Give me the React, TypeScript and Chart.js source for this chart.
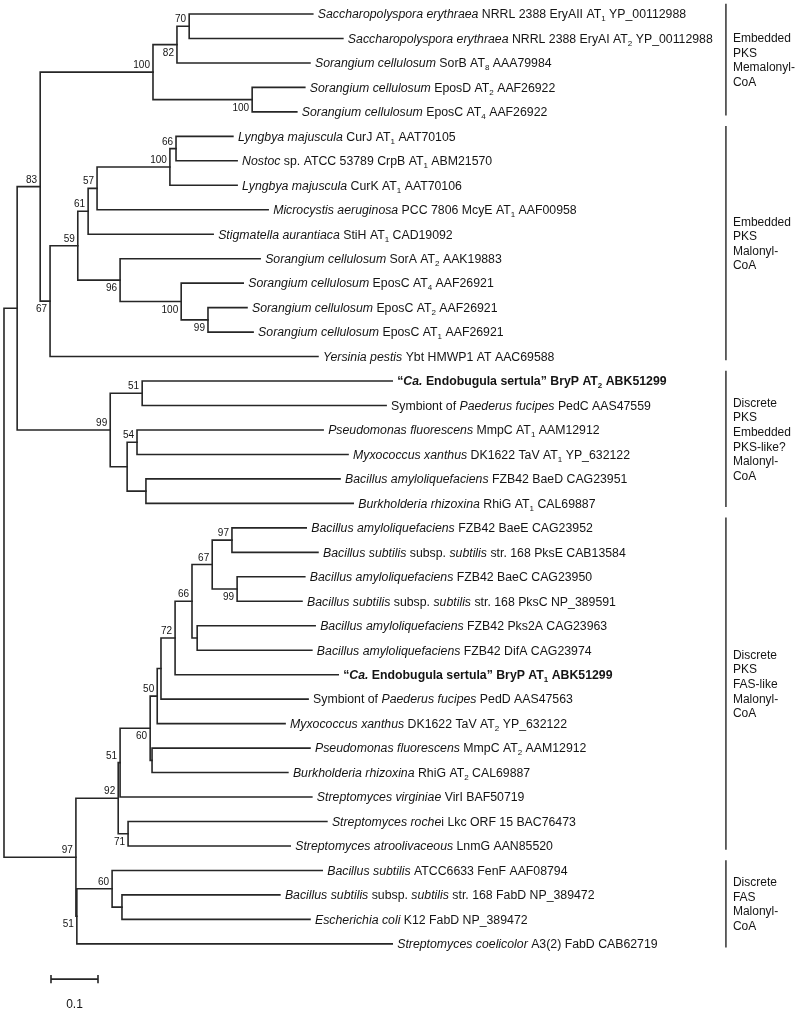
import React, { useEffect, useRef } from "react";
import { Chart, registerables } from "chart.js";
Chart.register(...registerables);

// ---------- DATA ----------
// Leaf labels: *..* italic, #..# bold, ~x subscript char
const leafLabels: string[] = [
  "*Saccharopolyspora erythraea* NRRL 2388 EryAII AT~1 YP_00112988",
  "*Saccharopolyspora erythraea* NRRL 2388 EryAI AT~2 YP_00112988",
  "*Sorangium cellulosum* SorB AT~8 AAA79984",
  "*Sorangium cellulosum* EposD AT~2 AAF26922",
  "*Sorangium cellulosum* EposC AT~4 AAF26922",
  "*Lyngbya majuscula* CurJ AT~1 AAT70105",
  "*Nostoc* sp. ATCC 53789 CrpB AT~1 ABM21570",
  "*Lyngbya majuscula* CurK AT~1 AAT70106",
  "*Microcystis aeruginosa* PCC 7806 McyE AT~1 AAF00958",
  "*Stigmatella aurantiaca* StiH AT~1 CAD19092",
  "*Sorangium cellulosum* SorA AT~2 AAK19883",
  "*Sorangium cellulosum* EposC AT~4 AAF26921",
  "*Sorangium cellulosum* EposC AT~2 AAF26921",
  "*Sorangium cellulosum* EposC AT~1 AAF26921",
  "*Yersinia pestis* Ybt HMWP1 AT AAC69588",
  "#“*Ca.* Endobugula sertula” BryP AT~2 ABK51299#",
  "Symbiont of *Paederus fucipes* PedC AAS47559",
  "*Pseudomonas fluorescens* MmpC AT~1 AAM12912",
  "*Myxococcus xanthus* DK1622 TaV AT~1 YP_632122",
  "*Bacillus amyloliquefaciens* FZB42 BaeD CAG23951",
  "*Burkholderia rhizoxina* RhiG AT~1 CAL69887",
  "*Bacillus amyloliquefaciens* FZB42 BaeE CAG23952",
  "*Bacillus subtilis* subsp. *subtilis* str. 168 PksE CAB13584",
  "*Bacillus amyloliquefaciens* FZB42 BaeC CAG23950",
  "*Bacillus subtilis* subsp. *subtilis* str. 168 PksC NP_389591",
  "*Bacillus amyloliquefaciens* FZB42 Pks2A CAG23963",
  "*Bacillus amyloliquefaciens* FZB42 DifA CAG23974",
  "#“*Ca.* Endobugula sertula” BryP AT~1 ABK51299#",
  "Symbiont of *Paederus fucipes* PedD AAS47563",
  "*Myxococcus xanthus* DK1622 TaV AT~2 YP_632122",
  "*Pseudomonas fluorescens* MmpC AT~2 AAM12912",
  "*Burkholderia rhizoxina* RhiG AT~2 CAL69887",
  "*Streptomyces virginiae* VirI BAF50719",
  "*Streptomyces roche*i Lkc ORF 15 BAC76473",
  "*Streptomyces atroolivaceous* LnmG AAN85520",
  "*Bacillus subtilis* ATCC6633 FenF AAF08794",
  "*Bacillus subtilis* subsp. *subtilis* str. 168 FabD NP_389472",
  "*Escherichia coli* K12 FabD NP_389472",
  "*Streptomyces coelicolor* A3(2) FabD CAB62719",
];

// distance from root (substitutions/site) at each leaf tip
const leafDepths: number[] = [
  0.657, 0.721, 0.651, 0.640, 0.623, 0.487, 0.496, 0.496, 0.562, 0.445,
  0.545, 0.509, 0.517, 0.530, 0.668, 0.826, 0.813, 0.679, 0.732, 0.715,
  0.743, 0.643, 0.668, 0.640, 0.634, 0.662, 0.655, 0.711, 0.647, 0.598,
  0.651, 0.604, 0.655, 0.687, 0.609, 0.677, 0.587, 0.651, 0.826,
];

const leafParents: string[] = [
  "N70", "N70", "N82", "N100b", "N100b", "N66a", "N66a", "N100c", "N57", "N61",
  "N96", "N100d", "N99a", "N99a", "N67", "N51a", "N51a", "N54", "N54", "C",
  "C", "N97b", "N97b", "N99c", "N99c", "E", "E", "N72", "D", "N50",
  "F", "F", "N51b", "N71", "N71", "N60b", "G", "G", "N51c",
];

const nodeIds: string[] = [
  "R", "A", "N83", "N100a", "N82", "N70", "N100b", "N67", "N59", "N61",
  "N57", "N100c", "N66a", "N96", "N100d", "N99a", "N99b", "N51a", "B", "N54",
  "C", "N97a", "N92", "N51b", "N60a", "N50", "D", "N72", "N66b", "N67b",
  "N97b", "N99c", "E", "F", "N71", "N51c", "N60b", "G",
];
const nodeParents: (string | null)[] = [
  null, "R", "A", "N83", "N100a", "N82", "N100a", "N83", "N67", "N59",
  "N61", "N57", "N100c", "N59", "N96", "N100d", "A", "N99b", "N99b", "B",
  "B", "R", "N97a", "N92", "N51b", "N60a", "N50", "D", "N72", "N66b",
  "N67b", "N67b", "N66b", "N60a", "N92", "N97a", "N51c", "N60b",
];
const nodeDepths: number[] = [
  0.0, 0.028, 0.077, 0.317, 0.368, 0.394, 0.528, 0.098, 0.157, 0.179,
  0.198, 0.353, 0.366, 0.247, 0.377, 0.434, 0.226, 0.294, 0.262, 0.283,
  0.302, 0.153, 0.243, 0.247, 0.311, 0.326, 0.334, 0.364, 0.400, 0.443,
  0.485, 0.496, 0.411, 0.315, 0.264, 0.155, 0.230, 0.251,
];
const nodeSupport: string[] = [
  "", "", "83", "100", "82", "70", "100", "67", "59", "61",
  "57", "100", "66", "96", "100", "99", "99", "51", "", "54",
  "", "97", "92", "51", "60", "50", "", "72", "66", "67",
  "97", "99", "", "", "71", "51", "60", "",
];
const supportBelow: boolean[] = [
  false, false, false, false, true, false, true, true, false, false,
  false, false, false, true, true, true, false, false, false, false,
  false, false, false, false, true, false, false, false, false, false,
  false, true, false, false, true, true, false, false,
];

const cladeFirst: number[] = [0, 5, 15, 21, 35];
const cladeLast: number[] = [4, 14, 20, 34, 38];
const cladeNames: string[][] = [
  ["Embedded", "PKS", "Memalonyl-", "CoA"],
  ["Embedded", "PKS", "Malonyl-", "CoA"],
  ["Discrete", "PKS", "Embedded", "PKS-like?", "Malonyl-", "CoA"],
  ["Discrete", "PKS", "FAS-like", "Malonyl-", "CoA"],
  ["Discrete", "FAS", "Malonyl-", "CoA"],
];

const scaleBarStart = 0.1;
const scaleBarLength = 0.1;
const scaleBarLabel = "0.1";

// ---------- LAYOUT CONSTANTS ----------
const W = 800;
const H = 1013;
const X_MIN = -0.0085;
const X_MAX = 1.6936;
const Y_MIN = -0.572;
const Y_MAX = 40.826;
const CLADE_X = 1.536;
const SCALE_ROW = 39.44;
const FONT = '"Liberation Sans", Arial, Helvetica, sans-serif';
const LINE_COLOR = "#262626";
const TEXT_COLOR = "#141414";

type Seg = { t: string; i: boolean; b: boolean; sub: boolean };
function parseRich(s: string): Seg[] {
  const segs: Seg[] = [];
  let it = false;
  let bd = false;
  let cur = "";
  const flush = () => {
    if (cur) {
      segs.push({ t: cur, i: it, b: bd, sub: false });
      cur = "";
    }
  };
  for (let k = 0; k < s.length; k++) {
    const ch = s[k];
    if (ch === "*") {
      flush();
      it = !it;
    } else if (ch === "#") {
      flush();
      bd = !bd;
    } else if (ch === "~") {
      flush();
      segs.push({ t: s[k + 1], i: it, b: bd, sub: true });
      k++;
    } else cur += ch;
  }
  flush();
  return segs;
}

type TNode = { id: string; depth: number; y: number; children: TNode[]; support: string; below: boolean };

function buildTree() {
  const map: Record<string, TNode> = {};
  nodeIds.forEach((id, k) => {
    map[id] = { id, depth: nodeDepths[k], y: NaN, children: [], support: nodeSupport[k], below: supportBelow[k] };
  });
  const leaves: TNode[] = leafLabels.map((_, k) => ({
    id: "L" + k,
    depth: leafDepths[k],
    y: k,
    children: [],
    support: "",
    below: false,
  }));
  leaves.forEach((l, k) => map[leafParents[k]].children.push(l));
  nodeIds.forEach((id, k) => {
    const p = nodeParents[k];
    if (p) map[p].children.push(map[id]);
  });
  const computeY = (n: TNode): number => {
    if (n.children.length === 0) return n.y;
    const ys = n.children.map(computeY);
    n.children.sort((a, b) => a.y - b.y);
    n.y = (Math.min(...ys) + Math.max(...ys)) / 2;
    return n.y;
  };
  computeY(map["R"]);
  return { map, leaves };
}

export default function App() {
  const ref = useRef<HTMLCanvasElement>(null);

  useEffect(() => {
    document.body.style.margin = "0";
    const { map } = buildTree();
    const lineBase = {
      showLine: true,
      borderColor: LINE_COLOR,
      borderWidth: 1.6,
      pointRadius: 0,
      pointHoverRadius: 0,
      fill: false,
      tension: 0,
      borderJoinStyle: "miter" as const,
      borderCapStyle: "square" as const,
    };
    const datasets: any[] = [];
    nodeIds.forEach((id) => {
      const n = map[id];
      const c = n.children;
      const f = c[0];
      const l = c[c.length - 1];
      datasets.push({
        ...lineBase,
        data: [
          { x: f.depth, y: f.y },
          { x: n.depth, y: f.y },
          { x: n.depth, y: l.y },
          { x: l.depth, y: l.y },
        ],
      });
      for (let k = 1; k < c.length - 1; k++) {
        datasets.push({
          ...lineBase,
          data: [
            { x: n.depth, y: c[k].y },
            { x: c[k].depth, y: c[k].y },
          ],
        });
      }
    });
    // clade bars
    cladeFirst.forEach((fi, k) => {
      datasets.push({
        ...lineBase,
        borderColor: "#333",
        borderWidth: 1.5,
        borderCapStyle: "butt",
        data: [
          { x: CLADE_X, y: fi - 0.42 },
          { x: CLADE_X, y: cladeLast[k] + 0.15 },
        ],
      });
    });
    // scale bar
    const sb0 = scaleBarStart;
    const sb1 = scaleBarStart + scaleBarLength;
    datasets.push({ ...lineBase, borderCapStyle: "butt", data: [{ x: sb0, y: SCALE_ROW }, { x: sb1, y: SCALE_ROW }] });
    datasets.push({ ...lineBase, borderCapStyle: "butt", data: [{ x: sb0, y: SCALE_ROW - 0.17 }, { x: sb0, y: SCALE_ROW + 0.17 }] });
    datasets.push({ ...lineBase, borderCapStyle: "butt", data: [{ x: sb1, y: SCALE_ROW - 0.17 }, { x: sb1, y: SCALE_ROW + 0.17 }] });

    const parsedLabels = leafLabels.map(parseRich);

    const textPlugin = {
      id: "treeText",
      beforeDraw(chart: any) {
        const ctx = chart.ctx;
        ctx.save();
        ctx.fillStyle = "#ffffff";
        ctx.fillRect(0, 0, chart.width, chart.height);
        ctx.restore();
      },
      afterDatasetsDraw(chart: any) {
        const ctx: CanvasRenderingContext2D = chart.ctx;
        const xs = chart.scales.x;
        const ys = chart.scales.y;
        ctx.save();
        ctx.fillStyle = TEXT_COLOR;
        ctx.textBaseline = "alphabetic";
        // leaf labels
        const size = 12.3;
        parsedLabels.forEach((segs, k) => {
          let x = xs.getPixelForValue(leafDepths[k]) + 5;
          const base = ys.getPixelForValue(k) + 4.3;
          segs.forEach((s) => {
            const fs = s.sub ? 8 : size;
            ctx.font = `${s.i ? "italic " : ""}${s.b ? "bold " : ""}${fs}px ${FONT}`;
            ctx.textAlign = "left";
            ctx.fillText(s.t, x, s.sub ? base + 3 : base);
            x += ctx.measureText(s.t).width;
          });
        });
        // bootstrap values
        ctx.font = `10px ${FONT}`;
        ctx.textAlign = "right";
        nodeIds.forEach((id) => {
          const n = map[id];
          if (!n.support) return;
          const px = xs.getPixelForValue(n.depth) - 3;
          const py = ys.getPixelForValue(n.y);
          ctx.fillText(n.support, px, n.below ? py + 11 : py - 4);
        });
        // clade names
        ctx.font = `12px ${FONT}`;
        ctx.textAlign = "left";
        const lh = 14.6;
        cladeFirst.forEach((fi, k) => {
          const top = ys.getPixelForValue(fi - 0.42);
          const bot = ys.getPixelForValue(cladeLast[k] + 0.15);
          const mid = (top + bot) / 2;
          const lines = cladeNames[k];
          const start = mid - ((lines.length - 1) * lh) / 2;
          const tx = xs.getPixelForValue(CLADE_X) + 7;
          lines.forEach((ln, j) => {
            ctx.fillText(ln, tx, start + j * lh + 4.3);
          });
        });
        // scale bar label
        ctx.textAlign = "center";
        ctx.font = `12px ${FONT}`;
        const sx = xs.getPixelForValue(scaleBarStart + scaleBarLength / 2);
        const sy = ys.getPixelForValue(SCALE_ROW) + 25 + 4.3;
        ctx.fillText(scaleBarLabel, sx, sy);
        ctx.restore();
      },
    };

    const chart = new Chart(ref.current!, {
      type: "scatter",
      data: { datasets },
      options: {
        animation: false,
        responsive: false,
        devicePixelRatio: 1,
        layout: { padding: 0 },
        plugins: { legend: { display: false }, tooltip: { enabled: false } },
        events: [],
        scales: {
          x: { type: "linear", display: false, min: X_MIN, max: X_MAX },
          y: { type: "linear", display: false, reverse: true, min: Y_MIN, max: Y_MAX },
        },
      },
      plugins: [textPlugin],
    });
    return () => chart.destroy();
  }, []);

  return (
    <div style={{ width: W, height: H, overflow: "hidden" }}>
      <canvas ref={ref} width={W} height={H} style={{ display: "block" }} />
    </div>
  );
}
